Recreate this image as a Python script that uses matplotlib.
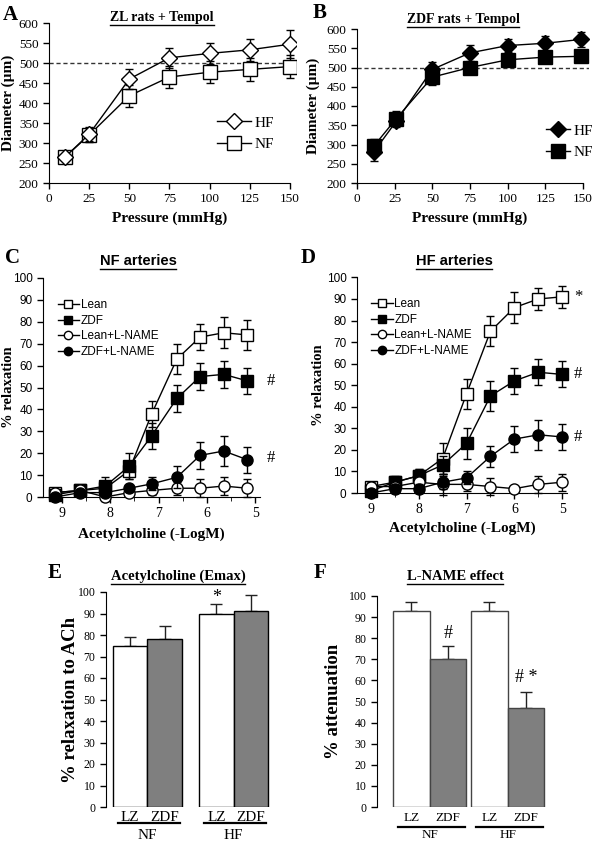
import matplotlib

matplotlib.use("Agg")
import matplotlib.pyplot as plt
from matplotlib.lines import Line2D

SERIF = ["Liberation Serif", "DejaVu Serif"]
SANS = ["Liberation Sans", "DejaVu Sans"]
plt.rcParams["font.family"] = SERIF

W, H = 600, 843

# --- A / B: pressure-diameter curves ---
pressure_a = [10, 25, 50, 75, 100, 125, 150]
zl_hf = [265, 322, 460, 513, 524, 533, 547]
zl_hf_err = [5, 18, 25, 25, 27, 28, 35]
zl_nf = [265, 320, 418, 465, 477, 484, 491]
zl_nf_err = [5, 18, 28, 28, 27, 28, 28]

pressure_b = [11, 26, 50, 75, 100, 125, 149]
zdf_hf = [280, 360, 495, 538, 557, 563, 573]
zdf_hf_err = [22, 15, 18, 20, 18, 20, 20]
zdf_nf = [295, 367, 475, 500, 520, 527, 529]
zdf_nf_err = [18, 20, 20, 10, 12, 15, 15]

# --- C / D: acetylcholine dose-response ---
ach_c = [9.14, 8.62, 8.1, 7.61, 7.14, 6.62, 6.14, 5.65, 5.16]
nf_lean = [2, 3, 4, 12, 38, 63, 73, 75, 74]
nf_lean_err = [1, 2, 3, 4, 6, 7, 6, 7, 7]
nf_zdf = [1, 3, 5, 14, 28, 45, 55, 56, 53]
nf_zdf_err = [1, 1, 4, 6, 6, 6, 6, 6, 6]
nf_lean_ln = [2, 3, 0, 2, 3, 4, 4, 5, 4]
nf_lean_ln_err = [1, 1, 2, 1, 2, 3, 4, 4, 4]
nf_zdf_ln = [0, 2, 2, 4, 6, 9, 19, 21, 17]
nf_zdf_ln_err = [0, 1, 1, 1, 3, 5, 6, 7, 6]

ach_d = [9, 8.5, 8, 7.5, 7, 6.5, 6, 5.5, 5]
hf_lean = [3, 5, 8, 16, 46, 75, 86, 90, 91]
hf_lean_err = [2, 2, 3, 7, 7, 7, 7, 5, 5]
hf_zdf = [1, 5, 8, 13, 23, 45, 52, 56, 55]
hf_zdf_err = [1, 3, 3, 4, 7, 7, 6, 6, 6]
hf_lean_ln = [3, 3, 5, 4, 4, 3, 2, 4, 5]
hf_lean_ln_err = [2, 2, 2, 5, 3, 4, 1, 4, 4]
hf_zdf_ln = [0, 2, 2, 5, 7, 17, 25, 27, 26]
hf_zdf_ln_err = [1, 2, 2, 3, 3, 5, 6, 7, 6]

# --- E / F: bar summaries (NF LZ, NF ZDF, HF LZ, HF ZDF) ---
bar_labels = ["LZ", "ZDF", "LZ", "ZDF"]
group_labels = ["NF", "HF"]
emax = [75, 78, 90, 91]
emax_err = [4, 6, 4.5, 7.5]
lname = [93, 70, 93, 47]
lname_err = [4, 6.5, 4, 7.5]


def px_axes(fig, left, top, right, bottom):
    return fig.add_axes([left / W, 1 - bottom / H, (right - left) / W, (bottom - top) / H])


def style_axes(ax):
    ax.spines["top"].set_visible(False)
    ax.spines["right"].set_visible(False)
    ax.tick_params(direction="out", length=4, width=1)


def handle(marker, face, ms):
    return Line2D([], [], color="black", lw=1, marker=marker, mfc=face, mec="black", ms=ms)


underline = []

fig = plt.figure(figsize=(W / 100, H / 100), dpi=100)

# ---------- panel A and B ----------
for (left, top, right, title, tx, ty, x, hf, hf_e, nf, nf_e, filled, lx, ly, ylc, xlc) in [
    (49, 23, 296.4, "ZL rats + Tempol", 162, 17, pressure_a, zl_hf, zl_hf_err, zl_nf, zl_nf_err,
     False, 0.65, 0.31, -0.137, -0.18),
    (357, 29, 589, "ZDF rats + Tempol", 463, 19, pressure_b, zdf_hf, zdf_hf_err, zdf_nf, zdf_nf_err,
     True, 0.78, 0.27, -0.16, -0.187),
]:
    ax = px_axes(fig, left, top, right, 183)
    style_axes(ax)
    ax.axhline(500, color="#333333", lw=1, ls=(0, (3, 2)), zorder=1)
    face = "black" if filled else "white"
    ax.errorbar(x, nf, yerr=nf_e, fmt="-s", color="black", mfc=face, mec="black", ms=10,
                lw=1, capsize=3, elinewidth=1, zorder=3)
    ax.errorbar(x, hf, yerr=hf_e, fmt="-D", color="black", mfc=face, mec="black", ms=8,
                lw=1, capsize=3, elinewidth=1, zorder=4)
    ax.set_xlim(0, 154)
    ax.set_ylim(200, 600)
    ax.spines["bottom"].set_bounds(0, 150)
    ax.set_xticks([0, 25, 50, 75, 100, 125, 150])
    ax.set_yticks(range(200, 601, 50))
    ax.tick_params(labelsize=9.5)
    ax.set_xlabel("Pressure (mmHg)", fontsize=11, fontweight="bold")
    ax.set_ylabel("Diameter (µm)", fontsize=11, fontweight="bold")
    ax.xaxis.set_label_coords(0.5 * 150 / 154, xlc)
    ax.yaxis.set_label_coords(ylc, 0.5)
    ax.legend([handle("D", face, 8), handle("s", face, 10)], ["HF", "NF"], loc="center left",
              bbox_to_anchor=(lx, ly), frameon=False, fontsize=11,
              handlelength=2.2 if not filled else 1.6,
              handletextpad=0.2, labelspacing=0.5, borderpad=0)
    underline.append(fig.text(tx / W, 1 - ty / H, title, fontsize=10, fontweight="bold",
                              ha="center", va="center"))

# ---------- panel C and D ----------
styles = [("s", "white", "Lean"), ("s", "black", "ZDF"),
          ("o", "white", "Lean+L-NAME"), ("o", "black", "ZDF+L-NAME")]
for (left, right, bottom, top, title, tx, x, series, xl, star, ylc, xlc) in [
    (43, 260, 497, 278, "NF arteries", 138, ach_c,
     [(nf_lean, nf_lean_err), (nf_zdf, nf_zdf_err), (nf_lean_ln, nf_lean_ln_err), (nf_zdf_ln, nf_zdf_ln_err)],
     (9.39, 4.9), [("#", 53), ("#", 18)], -0.129, -0.138),
    (357, 567, 493, 277.4, "HF arteries", 454, ach_d,
     [(hf_lean, hf_lean_err), (hf_zdf, hf_zdf_err), (hf_lean_ln, hf_lean_ln_err), (hf_zdf_ln, hf_zdf_ln_err)],
     (9.29, 4.9), [("*", 91), ("#", 55), ("#", 26)], -0.152, -0.13),
]:
    ax = px_axes(fig, left, top, right, bottom)
    style_axes(ax)
    for k, ((vals, errs), (mk, face, name)) in enumerate(zip(series, styles)):
        ax.errorbar(x, vals, yerr=errs, fmt="-" + mk, color="black", mfc=face, mec="black", ms=8,
                    lw=1, capsize=3, elinewidth=1, zorder=3 + k, clip_on=False)
    ax.set_xlim(*xl)
    ax.set_ylim(0, 100)
    ax.set_xticks([9, 8, 7, 6, 5])
    ax.set_xticks([8.5, 7.5, 6.5, 5.5], minor=True)
    ax.tick_params(which="minor", direction="out", length=3)
    ax.set_yticks(range(0, 101, 10))
    for t in ax.get_xticklabels():
        t.set_fontsize(10)
    for t in ax.get_yticklabels():
        t.set_fontfamily(SANS)
        t.set_fontsize(8.5)
    ax.set_xlabel("Acetylcholine (-LogM)", fontsize=11, fontweight="bold")
    ax.set_ylabel("% relaxation", fontsize=10.5, fontweight="bold")
    ax.xaxis.set_label_coords(0.5, xlc)
    ax.yaxis.set_label_coords(ylc, 0.5)
    ax.legend([handle(mk, face, 6) for mk, face, _ in styles], [s[2] for s in styles],
              loc="upper left", bbox_to_anchor=(0.04, 0.93), frameon=False,
              prop={"family": SANS, "size": 8.5}, handlelength=1.8, handletextpad=0.15,
              labelspacing=0.3, borderpad=0)
    for sym, yv in star:
        ax.text(4.76, yv, sym, fontsize=12, ha="left", va="center", clip_on=False)
    underline.append(fig.text(tx / W, 1 - 261 / H, title, fontsize=10.5,
                              fontweight="bold", family=SANS, ha="center", va="center"))

# ---------- panel E and F ----------
for (left, right, top, title, tx, ylabel, vals, errs, centers, xlim, ypos, fsz, notes, edge, ylc) in [
    (106, 275, 592, "Acetylcholine (Emax)", 178, "% relaxation to ACh", emax, emax_err,
     [0.7, 1.7, 3.2, 4.2], (0, 4.9), (-4.7, -7.6, -13.2), 11, [(3.2, 97.5, "*")], "black",
     -0.16),
    (377, 550, 596, "L-NAME effect", 455, "% attenuation", lname, lname_err,
     [0.93, 1.93, 3.05, 4.05], (0, 4.7), (-5.3, -9.6, -13.3), 9.5,
     [(1.93, 82, "#"), (4.05, 61.5, "# *")], "#444444", -0.202),
]:
    ax = px_axes(fig, left, top, right, 807)
    style_axes(ax)
    ax.spines["bottom"].set_visible(False)
    ax.bar(centers, vals, width=1.0, color=["white", "#7f7f7f", "white", "#7f7f7f"],
           edgecolor=edge, lw=1, zorder=2)
    ax.errorbar(centers, vals, yerr=[[0] * 4, errs], fmt="none", ecolor="#222222", elinewidth=1,
                capsize=4, zorder=1)
    ax.set_xlim(*xlim)
    ax.set_ylim(0, 100)
    ax.set_yticks(range(0, 101, 10))
    ax.set_xticks([])
    ax.tick_params(labelsize=8.5)
    ax.set_ylabel(ylabel, fontsize=13.5, fontweight="bold")
    ax.yaxis.set_label_coords(ylc, 0.5)
    for c, lab in zip(centers, bar_labels):
        ax.text(c, ypos[0], lab, fontsize=fsz, ha="center", va="center", clip_on=False)
    for g, gl in enumerate(group_labels):
        c0, c1 = centers[2 * g], centers[2 * g + 1]
        ax.plot([c0 - 0.35, c1 + 0.45], [ypos[1], ypos[1]], color="black", lw=1.6, clip_on=False)
        ax.text((c0 + c1) / 2, ypos[2], gl, fontsize=fsz, ha="center", va="center", clip_on=False)
    for xv, yv, sym in notes:
        ax.text(xv, yv, sym, fontsize=13, ha="center", va="center")
    underline.append(fig.text(tx / W, 1 - 576 / H, title, fontsize=10.5,
                              fontweight="bold", ha="center", va="center"))

# panel letters
for letter, x, y in [("A", 10, 15), ("B", 320, 13), ("C", 12, 258), ("D", 308, 258),
                     ("E", 55, 573), ("F", 320, 573)]:
    fig.text(x / W, 1 - y / H, letter, fontsize=15, fontweight="bold", ha="center", va="center")

# underline the titles
fig.canvas.draw()
renderer = fig.canvas.get_renderer()
for t in underline:
    bb = t.get_window_extent(renderer)
    yline = (bb.y0 - 1) / H
    fig.add_artist(Line2D([bb.x0 / W, bb.x1 / W], [yline, yline], transform=fig.transFigure,
                          color="black", lw=1))

fig.savefig("out.png", dpi=100)
plt.close(fig)
